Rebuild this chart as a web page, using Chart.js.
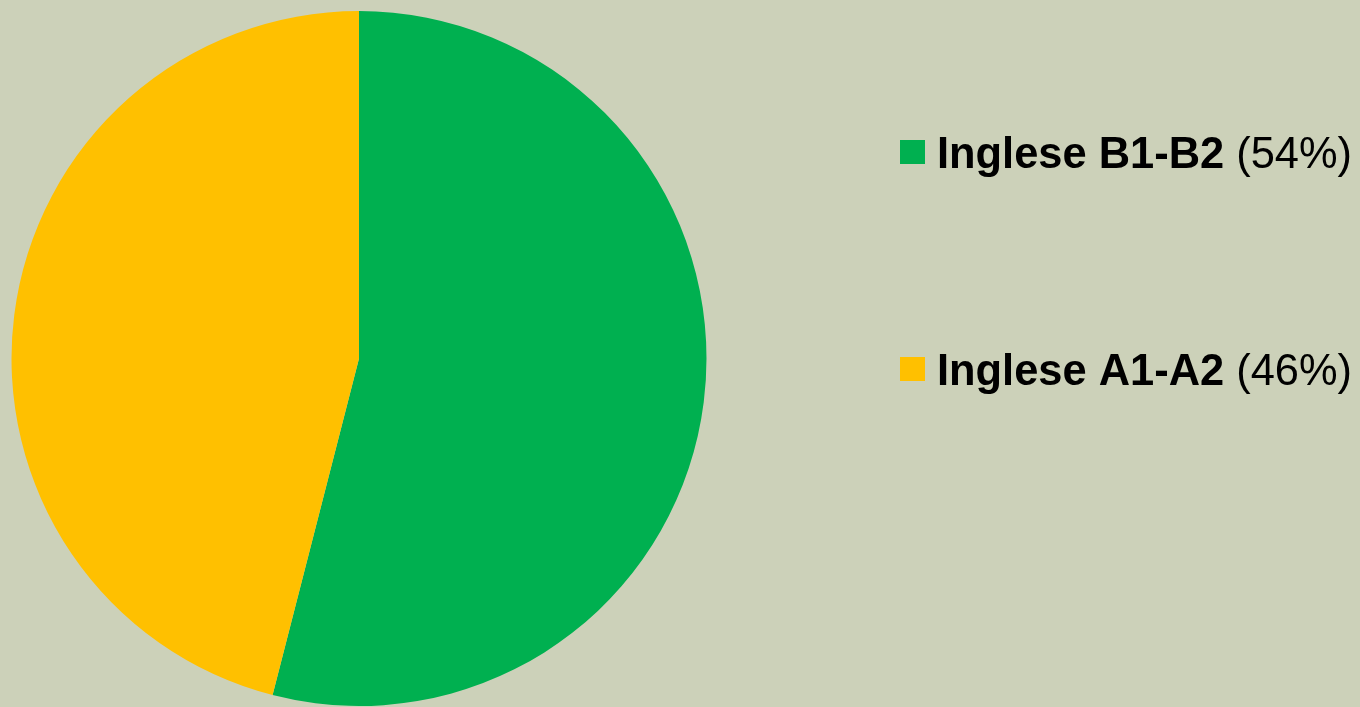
<!DOCTYPE html>
<html>
<head>
<meta charset="utf-8">
<script src="https://cdn.jsdelivr.net/npm/chart.js@4"></script>
<style>
  html, body { margin: 0; padding: 0; background: #ccd1b9; }
  #wrap { width: 1360px; height: 707px; position: relative; }
</style>
</head>
<body>
<div id="wrap"><canvas id="pie"></canvas></div>
<script>
const labels = ["Inglese B1-B2", "Inglese A1-A2"];
const values = [54, 46];
const colors = ["#00b050", "#ffc000"];

// legend drawn on the right, bold label + lighter percentage, squeezed to a narrow look
const sideLegend = {
  id: 'sideLegend',
  afterDraw(chart) {
    const ctx = chart.ctx;
    const rows = [168, 385];
    const x0 = 937, x1 = 1352;
    const boldFont = 'bold 45px "Liberation Sans", Arial, sans-serif';
    const regFont = '45px "Liberation Sans", Arial, sans-serif';
    ctx.save();
    ctx.textBaseline = 'alphabetic';
    for (let i = 0; i < labels.length; i++) {
      const y = rows[i];
      ctx.fillStyle = colors[i];
      ctx.fillRect(900, y - 28, 25, 24);

      const main = labels[i] + ' ';
      const pct = '(' + values[i] + '%)';
      ctx.font = boldFont;
      const w1 = ctx.measureText(main).width;
      ctx.font = regFont;
      const w2 = ctx.measureText(pct).width;
      const sx = (x1 - x0) / (w1 + w2);

      ctx.save();
      ctx.translate(x0, y);
      ctx.scale(sx, 1);
      ctx.fillStyle = '#000';
      ctx.font = boldFont;
      ctx.fillText(main, 0, 0);
      ctx.font = regFont;
      ctx.fillText(pct, w1, 0);
      ctx.restore();
    }
    ctx.restore();
  }
};

new Chart(document.getElementById('pie'), {
  type: 'pie',
  data: {
    labels: labels,
    datasets: [{
      data: values,
      backgroundColor: colors,
      borderWidth: 0
    }]
  },
  options: {
    responsive: true,
    maintainAspectRatio: false,
    animation: false,
    layout: { padding: { left: 11, top: 11, right: 653, bottom: 1 } },
    plugins: {
      legend: { display: false },
      tooltip: { enabled: false }
    }
  },
  plugins: [sideLegend]
});
</script>
</body>
</html>
